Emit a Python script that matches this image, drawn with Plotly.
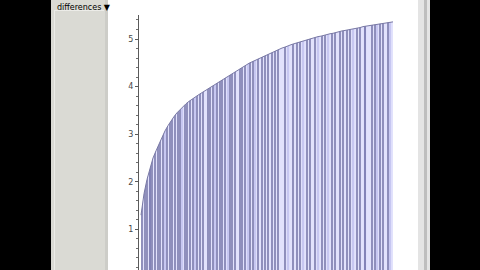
import plotly.graph_objects as go

# ---- data ----
# envelope of the filled curve, sampled every 3 units of n
n_env = list(range(0, 253, 3))
env_vals = [1.30, 1.75, 2.05, 2.30, 2.50, 2.65, 2.80, 2.95, 3.07, 3.18,
            3.28, 3.37, 3.45, 3.52, 3.58, 3.64, 3.69, 3.74, 3.78, 3.82,
            3.86, 3.90, 3.94, 3.98, 4.02, 4.06, 4.10, 4.14, 4.18, 4.22,
            4.26, 4.30, 4.34, 4.38, 4.42, 4.45, 4.49, 4.52, 4.55, 4.58,
            4.61, 4.64, 4.67, 4.70, 4.73, 4.76, 4.78, 4.81, 4.83, 4.86,
            4.88, 4.90, 4.92, 4.94, 4.96, 4.98, 5.00, 5.02, 5.03, 5.05,
            5.06, 5.08, 5.09, 5.11, 5.12, 5.14, 5.15, 5.17, 5.18, 5.19,
            5.21, 5.22, 5.23, 5.24, 5.26, 5.27, 5.28, 5.29, 5.30, 5.31,
            5.32, 5.33, 5.34, 5.35, 5.36]
# positions of the dark vertical drop lines
dark_drops = [1, 4, 6, 9, 11, 14, 17, 19, 22, 26, 29, 31, 34, 37, 39, 44, 46, 49,
              52, 56, 59, 62, 67, 69, 72, 76, 79, 81, 84, 89, 91, 94, 99, 101, 104,
              109, 112, 117, 121, 124, 127, 131, 134, 137, 144, 152, 156, 159, 166,
              169, 174, 181, 184, 191, 194, 199, 202, 206, 209, 216, 219, 224, 231,
              234, 239, 242, 247]
# positions of the fainter (medium) drop stripes
medium_drops = [9, 24, 41, 54, 74, 87, 107, 114, 147, 162, 177, 187, 212, 224, 236, 249]
y_ticks = [1, 2, 3, 4, 5]

W, H = 480, 270
TOP = 6.0

def seg(xs, top):
    X, Y = [], []
    for x in xs:
        X += [x, x, None]
        Y += [0, top, None]
    return X, Y

fig = go.Figure()
# lavender area under the envelope
fig.add_trace(go.Scatter(x=n_env, y=env_vals, mode="lines", fill="tozeroy",
                         fillcolor="rgb(226,226,252)", line=dict(width=0),
                         hoverinfo="skip", showlegend=False))
mx, my = seg(medium_drops, TOP)
fig.add_trace(go.Scatter(x=mx, y=my, mode="lines",
                         line=dict(color="rgba(160,160,225,0.4)", width=2.2),
                         hoverinfo="skip", showlegend=False))
dx, dy = seg(dark_drops, TOP)
fig.add_trace(go.Scatter(x=dx, y=dy, mode="lines",
                         line=dict(color="rgb(75,75,135)", width=1.1),
                         hoverinfo="skip", showlegend=False))
# envelope line (its group also holds the white mask fill from the next trace)
fig.add_trace(go.Scatter(x=n_env, y=env_vals, mode="lines",
                         line=dict(color="rgb(120,120,165)", width=1),
                         hoverinfo="skip", showlegend=False))
fig.add_trace(go.Scatter(x=[-2, 282], y=[TOP, TOP], mode="lines", fill="tonexty",
                         fillcolor="white", line=dict(width=0),
                         hoverinfo="skip", showlegend=False))

px = lambda p: p / W
py = lambda p: 1 - p / H
shapes = [
    dict(type="rect", x0=0, x1=px(51), y0=0, y1=1, fillcolor="black", line_width=0),
    dict(type="rect", x0=px(51), x1=px(108), y0=0, y1=1, fillcolor="rgb(218,218,212)", line_width=0),
    dict(type="rect", x0=px(54), x1=px(55), y0=0, y1=py(10), fillcolor="rgb(236,236,232)", line_width=0),
    dict(type="rect", x0=px(55), x1=px(104), y0=py(11), y1=py(10), fillcolor="rgb(236,236,232)", line_width=0),
    dict(type="rect", x0=px(105), x1=px(108), y0=0, y1=1, fillcolor="rgb(205,205,200)", line_width=0),
    dict(type="rect", x0=px(418), x1=px(430), y0=0, y1=1, fillcolor="rgb(228,228,228)", line_width=0),
    dict(type="rect", x0=px(424), x1=px(427), y0=0, y1=1, fillcolor="rgb(190,190,190)", line_width=0),
    dict(type="rect", x0=px(430), x1=1, y0=0, y1=1, fillcolor="black", line_width=0),
]
for s in shapes:
    s.update(xref="paper", yref="paper", layer="below")

ymin = 7 / 47.6
ymax = ymin + 255 / 47.6
fig.update_layout(
    width=W, height=H, margin=dict(l=0, r=0, t=0, b=0),
    paper_bgcolor="white", plot_bgcolor="rgba(0,0,0,0)",
    shapes=shapes, showlegend=False,
    xaxis=dict(domain=[px(139), px(423)], range=[-2, 282], visible=False),
    yaxis=dict(domain=[0, py(15)], range=[ymin, ymax], showgrid=False, zeroline=False,
               showline=True, linecolor="rgb(90,90,90)", linewidth=1,
               ticks="outside", ticklen=3, tickcolor="rgb(90,90,90)",
               tickvals=y_ticks, ticktext=[str(v) for v in y_ticks],
               tickfont=dict(family="DejaVu Sans", size=8, color="rgb(70,70,70)"),
               minor=dict(dtick=0.2, ticks="outside", ticklen=2, tickcolor="rgb(110,110,110)")),
    annotations=[dict(text="differences ▼", xref="paper", yref="paper",
                      x=px(55), y=py(1), xanchor="left", yanchor="top",
                      showarrow=False, font=dict(family="DejaVu Sans", size=8, color="black"))],
)
fig.write_html("out.html")
